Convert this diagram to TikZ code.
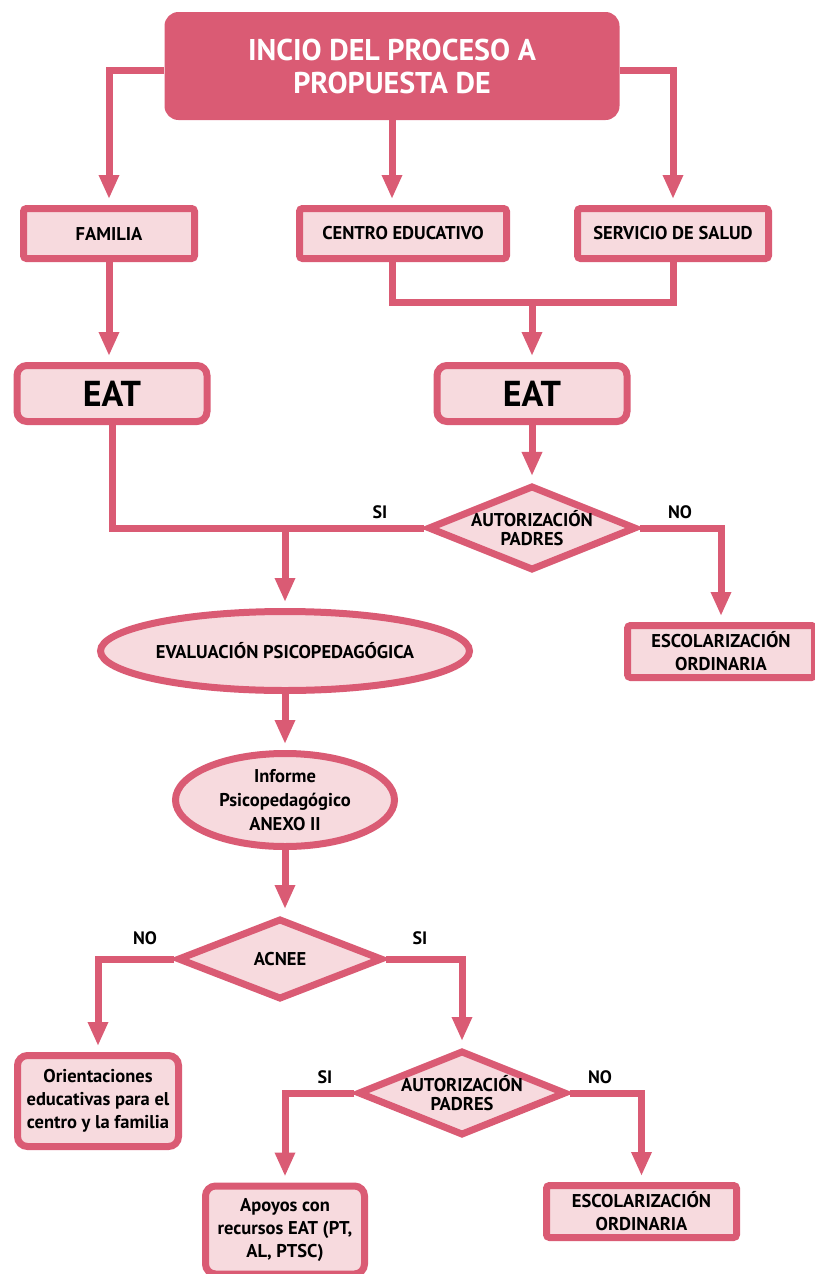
\documentclass[tikz,border=0pt]{standalone}
\usepackage{fontspec}
\setmainfont{PT Sans}
\usetikzlibrary{shapes.geometric,arrows.meta}
\definecolor{pk}{HTML}{DA5B74}
\definecolor{lp}{HTML}{F7DADE}
\begin{document}
\begin{tikzpicture}[x=1pt,y=-1pt,
  every node/.style={font=\fontsize{18.5}{23}\selectfont\bfseries, align=center, inner sep=1pt},
  box/.style={draw=pk, fill=lp, line width=7pt, rounded corners=3pt},
  rbox/.style={draw=pk, fill=lp, line width=7pt, rounded corners=10pt},
  oval/.style={draw=pk, fill=lp, line width=7pt, ellipse, inner sep=0pt},
  dia/.style={draw=pk, fill=lp, line width=7pt, diamond, inner sep=0pt, aspect=2.45},
  ln/.style={draw=pk, line width=7pt},
  arr/.style={ln, -{Triangle[length=24pt,width=19pt]}, shorten >=6pt},
  lab/.style={font=\fontsize{18}{20}\selectfont\bfseries}
]
\useasboundingbox (0,0) rectangle (814,1274);

% top
\node[fill=pk, rounded corners=14pt, minimum width=455, minimum height=108,
      text=white, font=\fontsize{30}{33}\selectfont\bfseries] (top) at (392,66)
      {INCIO DEL PROCESO A\\PROPUESTA DE};

% row 2
\node[box, minimum width=171, minimum height=50] (fam) at (109,233.5) {FAMILIA};
\node[box, minimum width=207, minimum height=50] (cen) at (403,233.5) {CENTRO EDUCATIVO};
\node[box, minimum width=191, minimum height=50] (ser) at (673,233.5) {SERVICIO DE SALUD};

% EAT
\node[rbox, minimum width=190, minimum height=56, font=\fontsize{36}{38}\selectfont\bfseries] (eat1) at (112,393.5) {EAT};
\node[rbox, minimum width=190, minimum height=56, font=\fontsize{36}{38}\selectfont\bfseries] (eat2) at (532,393.5) {EAT};

\coordinate (m) at (532,302);

% diamond 1
\node[dia, minimum width=200, minimum height=78] (d1) at (532,528) {AUTORIZACIÓN\\[-4pt]PADRES};
\node[box, minimum width=187, minimum height=52] (esc1) at (721,651.5) {ESCOLARIZACIÓN\\ORDINARIA};

% ellipses
\node[oval, minimum width=369, minimum height=79] (ev) at (285,651) {EVALUACIÓN PSICOPEDAGÓGICA};
\node[oval, minimum width=219, minimum height=93] (inf) at (285,800) {Informe\\[1pt]Psicopedagógico\\[1pt]ANEXO II};

% ACNEE
\node[dia, minimum width=205, minimum height=81] (acnee) at (280,959) {ACNEE};
\node[rbox, minimum width=161, minimum height=91] (ori) at (98,1101) {Orientaciones\\educativas para el\\centro y la familia};

% diamond 2
\node[dia, minimum width=201, minimum height=83] (d2) at (462,1093) {AUTORIZACIÓN\\[-4pt]PADRES};
\node[rbox, minimum width=159, minimum height=88] (apo) at (285,1230) {Apoyos con\\recursos EAT (PT,\\AL, PTSC)};
\node[box, minimum width=190, minimum height=52] (esc2) at (641.5,1211.5) {ESCOLARIZACIÓN\\ORDINARIA};

% labels
\node[lab] (l1) at (380,512) {SI};
\node[lab] (l2) at (680,512) {NO};
\node[lab] (l3) at (145,938) {NO};
\node[lab] (l4) at (420,938) {SI};
\node[lab] (l5) at (325,1077) {SI};
\node[lab] (l6) at (600,1077) {NO};

% connectors
\draw[arr] ([yshift=-4pt]top.west) -| (fam.north);
\draw[arr] (top.south) -- (top.south |- cen.north);
\draw[arr] ([yshift=-4pt]top.east) -| (ser.north);

\draw[arr] (fam.south) -- (fam.south |- eat1.north);
\draw[ln] (top.south |- cen.south) |- (m) -| (ser.south);
\draw[arr] (m) -- (eat2.north);

\draw[arr] (eat2.south) -- (d1.north);
\draw[ln] (eat1.south) |- (d1.west);
\draw[arr] (ev.north |- d1.west) -- (ev.north);
\draw[arr] (d1.east) -| (esc1.north);

\draw[arr] (ev.south) -- (inf.north);
\draw[arr] (inf.south) -- (inf.south |- acnee.north);
\draw[arr] (acnee.west) -| (ori.north);
\draw[arr] (acnee.east) -| (d2.north);
\draw[arr] (d2.west) -| (apo.north);
\draw[arr] (d2.east) -| (esc2.north);
\end{tikzpicture}
\end{document}
